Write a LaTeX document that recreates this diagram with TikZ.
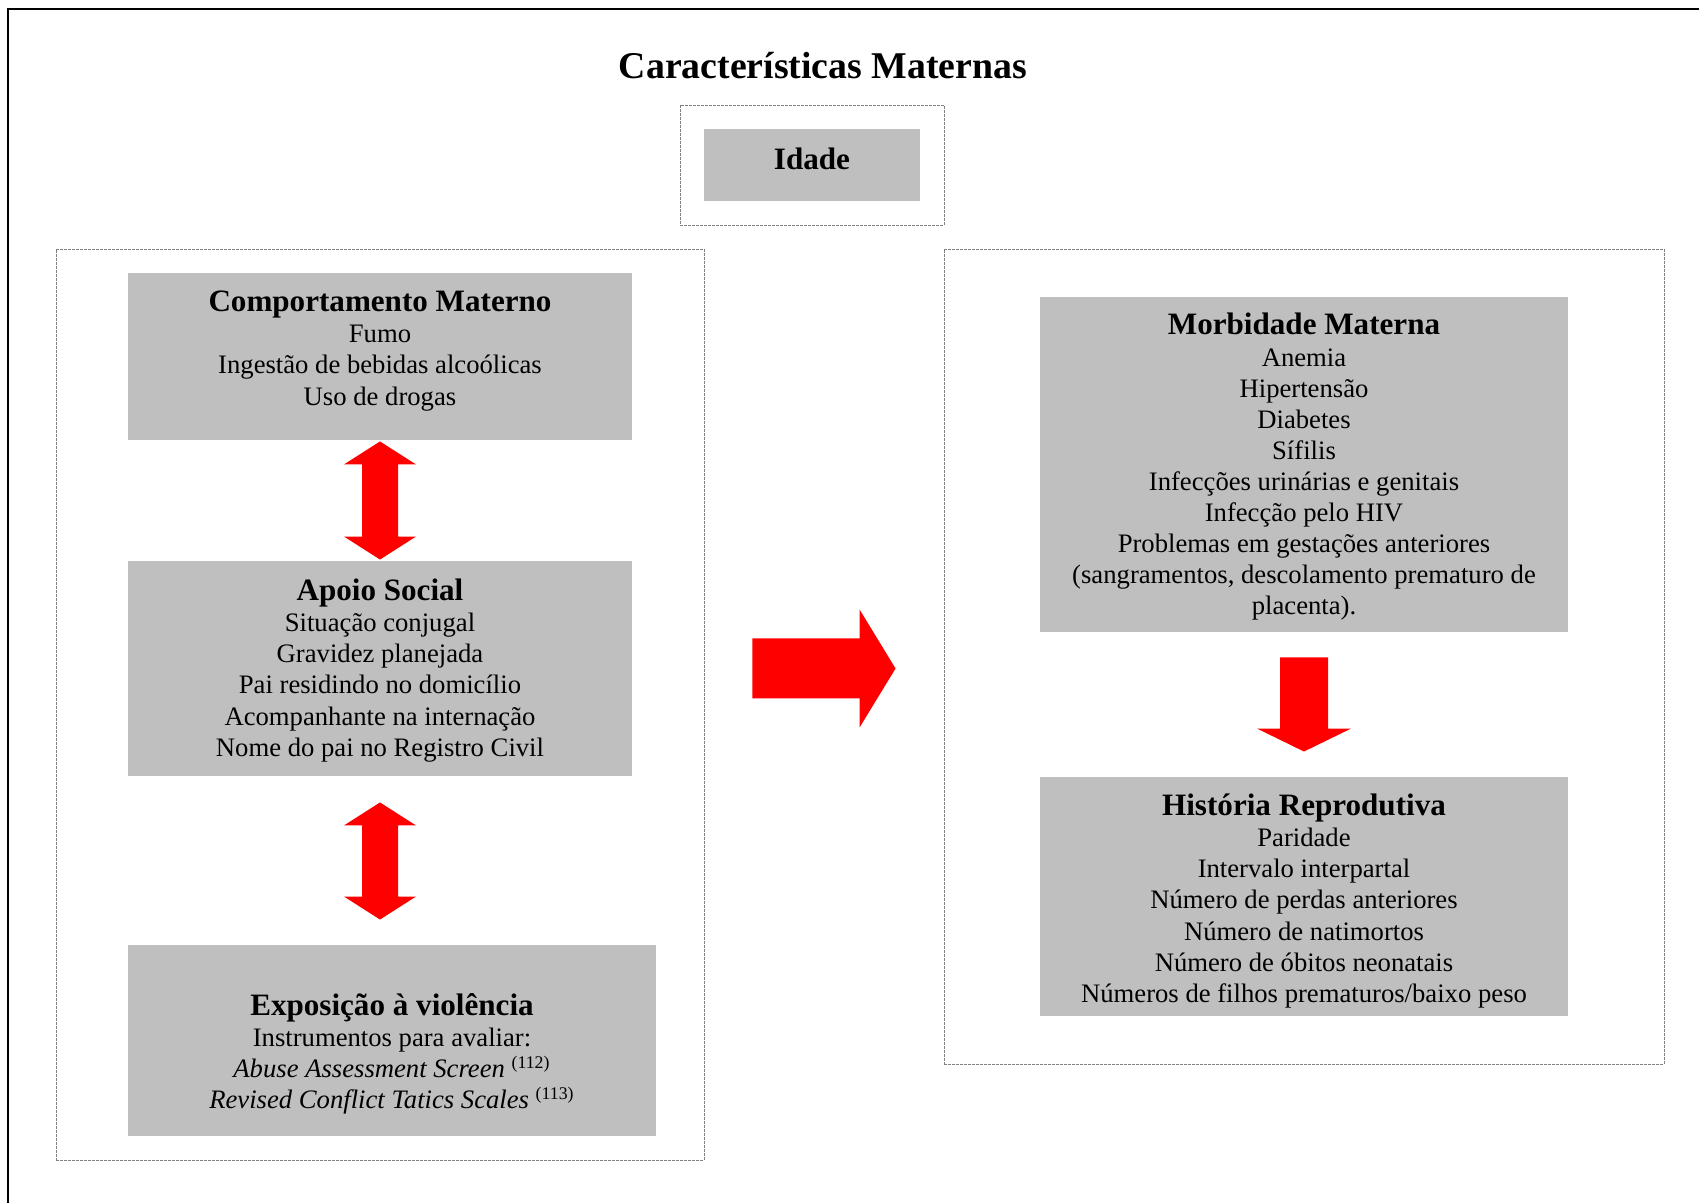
\documentclass[tikz,border=0pt]{standalone}
\usepackage{fontspec}
\setmainfont{Liberation Serif}
\usetikzlibrary{calc}
\newlength{\pxu}
\setlength{\pxu}{0.45pt}
\tikzset{
  caixa/.style={fill=gray!50, inner sep=0},
  texto/.style={inner sep=0, align=center, font=\fontsize{12}{14}\selectfont},
  tracejado/.style={draw=gray, dash pattern=on 1.2pt off 0.6pt, line width=0.4pt, inner sep=0},
  seta/.style={fill=red}
}
\newcommand{\titulo}[1]{{\fontsize{14}{16.5}\selectfont\bfseries #1}}

\begin{document}
\begin{tikzpicture}[x=\pxu,y=-\pxu]
\useasboundingbox (0,0) rectangle (1699,1203);
\draw[line width=2*\pxu] (8,1203)--(8,9)--(1699,9);
\node (titulo) at (823,66) {\fontsize{17}{20}\selectfont\bfseries Características Maternas};

\node[tracejado, minimum width=264*\pxu, minimum height=120*\pxu] (grupoidade) at (812,165) {};
\node[caixa, minimum width=216*\pxu, minimum height=72*\pxu] (idade) at (812,165) {};
\node[texto] (idade-txt) at ($(idade)+(0,-6.5)$) {\titulo{Idade}};

\node[tracejado, minimum width=648*\pxu, minimum height=911*\pxu] (esq) at (380,704.5) {};
\node[tracejado, minimum width=720*\pxu, minimum height=815*\pxu] (dir) at (1304,656.5) {};

\node[caixa, minimum width=504*\pxu, minimum height=167*\pxu] (comp) at (380,356.5) {};
\node[texto] (comp-txt) at ($(comp)+(0,-5.5)$) {\titulo{Comportamento Materno}\\
  Fumo\\ Ingestão de bebidas alcoólicas\\ Uso de drogas};
\node[caixa, minimum width=504*\pxu, minimum height=215*\pxu] (apoio) at (380,668.5) {};
\node[texto] (apoio-txt) at ($(apoio)+(0,2)$) {\titulo{Apoio Social}\\
  Situação conjugal\\ Gravidez planejada\\ Pai residindo no domicílio\\
  Acompanhante na internação\\ Nome do pai no Registro Civil};
\node[caixa, minimum width=528*\pxu, minimum height=191*\pxu] (expo) at (392,1040.5) {};
\node[texto] (expo-txt) at ($(expo)+(0,13.5)$) {\titulo{Exposição à violência}\\
  Instrumentos para avaliar:\\ \textit{Abuse Assessment Screen} \textsuperscript{(112)}\\
  \textit{Revised Conflict Tatics Scales} \textsuperscript{(113)}};

\node[caixa, minimum width=528*\pxu, minimum height=335*\pxu] (morb) at (1304,464.5) {};
\node[texto] (morb-txt) at ($(morb)+(0,2.5)$) {\titulo{Morbidade Materna}\\
  Anemia\\ Hipertensão\\ Diabetes\\ Sífilis\\ Infecções urinárias e genitais\\ Infecção pelo HIV\\
  Problemas em gestações anteriores\\ (sangramentos, descolamento prematuro de\\ placenta).};
\node[caixa, minimum width=528*\pxu, minimum height=239*\pxu] (hist) at (1304,896.5) {};
\node[texto] (hist-txt) at ($(hist)+(0,4.5)$) {\titulo{História Reprodutiva}\\
  Paridade\\ Intervalo interpartal\\ Número de perdas anteriores\\ Número de natimortos\\
  Número de óbitos neonatais\\ Números de filhos prematuros/baixo peso};

\coordinate (topo1) at ($(comp.south)+(0,1)$);
\coordinate (base1) at ($(apoio.north)+(0,-1)$);
\coordinate (topo2) at ($(apoio.south)+(0,26)$);
\coordinate (base2) at ($(apoio.south|-expo.north)+(0,-25)$);
\foreach \i in {1,2} {
  \fill[seta] (topo\i) -- ($(topo\i)+(36,23)$) -- ($(topo\i)+(18,23)$) -- ($(base\i)+(18,-23)$)
    -- ($(base\i)+(36,-23)$) -- (base\i) -- ($(base\i)+(-36,-23)$) -- ($(base\i)+(-18,-23)$)
    -- ($(topo\i)+(-18,23)$) -- ($(topo\i)+(-36,23)$) -- cycle;
}

\coordinate (topo3) at ($(morb.south)+(0,25)$);
\coordinate (base3) at ($(hist.north)+(0,-25)$);
\fill[seta] ($(topo3)+(-24,0)$) -- ($(topo3)+(24,0)$) -- ($(base3)+(24,-23)$) -- ($(base3)+(47,-23)$)
  -- (base3) -- ($(base3)+(-47,-23)$) -- ($(base3)+(-24,-23)$) -- cycle;

\coordinate (ini4) at ($(esq.east|-apoio.center)+(48,0)$);
\coordinate (fim4) at ($(dir.west|-apoio.center)+(-48,0)$);
\fill[seta] ($(ini4)+(0,-30)$) -- ($(fim4)+(-36,-30)$) -- ($(fim4)+(-36,-59)$) -- (fim4)
  -- ($(fim4)+(-36,59)$) -- ($(fim4)+(-36,30)$) -- ($(ini4)+(0,30)$) -- cycle;
\end{tikzpicture}
\end{document}
